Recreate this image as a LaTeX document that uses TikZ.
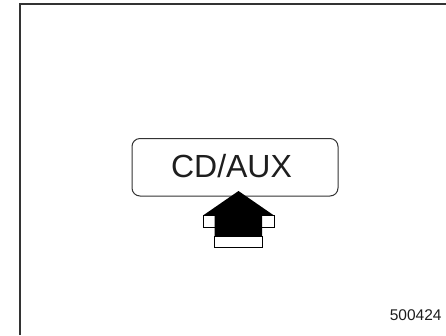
\documentclass[tikz,border=0pt]{standalone}
\usepackage{fontspec}
\setmainfont{Liberation Sans}
\definecolor{linegray}{HTML}{333333}
\definecolor{textdark}{HTML}{1E1E1E}
\begin{document}
\begin{tikzpicture}[x=1pt,y=-1pt,
  framestyle/.style={draw=linegray,line width=1.4pt},
  buttonbox/.style={draw=linegray,line width=1pt,rounded corners=8pt,fill=white,
    minimum width=206pt,minimum height=57.5pt,inner sep=0pt},
  arrowpart/.style={draw=black,line width=1pt,line join=miter},
  lbl/.style={text=textdark,inner sep=0pt}]
\useasboundingbox (0,0) rectangle (446,335);
\fill[white] (0,0) rectangle (446,335);
% frame
\draw[framestyle] (20,335) -- (20,4) -- (446,4);
% button
\node[buttonbox] (button) at (235,167.25) {};
\node[lbl,anchor=base,font=\fontsize{32}{32}\selectfont] (btntext) at (231.5,177) {CD/AUX};
% arrow: white side faces
\draw[arrowpart,fill=white] (214.5,236.5) rectangle (262,247.5);
\draw[arrowpart,fill=white] (203,215.5) rectangle (216,227.5);
\draw[arrowpart,fill=white] (261,215.5) rectangle (274,227.5);
% arrow: black top face
\fill[black] (238.5,191) -- (274,215.5) -- (262,215.5) -- (262,236.5) -- (214.5,236.5) -- (214.5,215.5) -- (203,215.5) -- cycle;
% code
\node[lbl,anchor=base east,font=\fontsize{15.5}{15.5}\selectfont] (code) at (441.7,320) {500424};
\end{tikzpicture}
\end{document}
